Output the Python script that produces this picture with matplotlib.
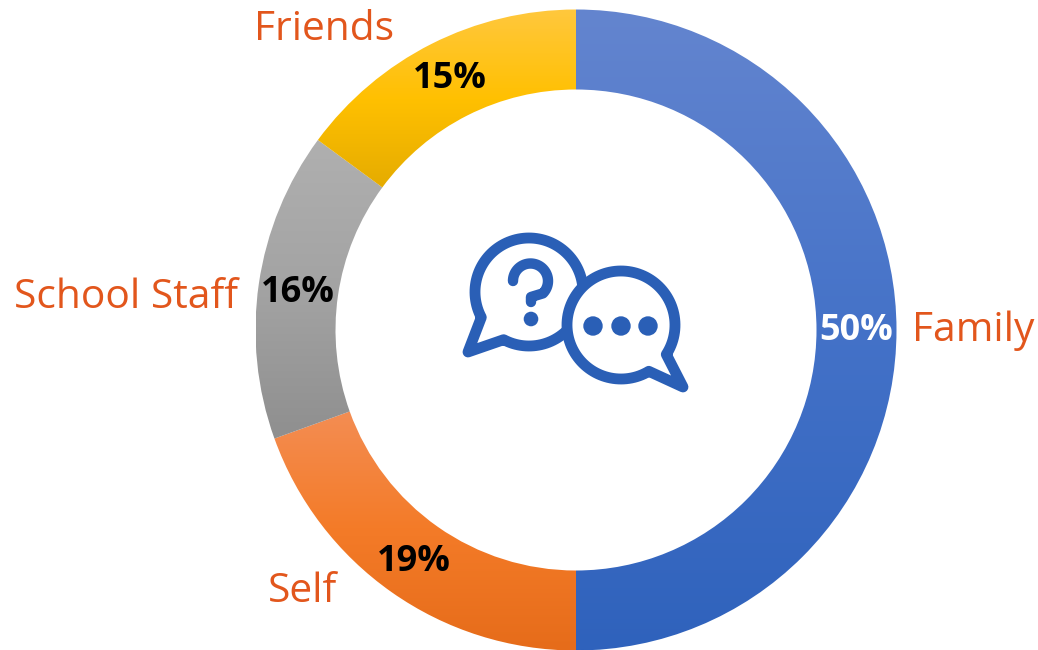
import numpy as np
import matplotlib
matplotlib.use('Agg')
import matplotlib.pyplot as plt
from matplotlib.patches import Wedge, Circle, Polygon
from matplotlib.colors import LinearSegmentedColormap

# Shares clockwise from 12 o'clock (read from the slice edges, labels are rounded)
labels = ['Family', 'Self', 'School Staff', 'Friends']
values = [50, 19.5, 15.6, 14.9]
pct_labels = ['50%', '19%', '16%', '15%']
top_colors = ['#6485cf', '#f38e55', '#b0b0b0', '#ffc840']
mid_colors = ['#4472c8', '#f47b28', '#a3a3a3', '#ffc000']
bot_colors = ['#2f62bc', '#e66c1a', '#8e8e8e', '#e3aa00']
pct_colors = ['white', 'black', 'black', 'black']

# Pixel coordinates, y flipped through the axes limits
W, H = 1038, 650
cx, cy = 576, 330
R_out, R_in = 320.5, 240.5

fig = plt.figure(figsize=(W / 100, H / 100), dpi=100)
ax = fig.add_axes([0, 0, 1, 1])
ax.set_xlim(0, W)
ax.set_ylim(H, 0)
ax.axis('off')

start = 0
bands = [(cy - R_out, cy + R_out), (405, cy + R_out), (135, 445), (5, 195)]
for val, c1, c2, c3, band in zip(values, top_colors, mid_colors, bot_colors, bands):
    end = start + val / sum(values) * 360
    # y axis is inverted, so the wedge angles run clockwise from +x
    w = Wedge((cx, cy), R_out, start - 90, end - 90, width=R_out - R_in, fc='none', ec='none')
    ax.add_patch(w)
    cmap = LinearSegmentedColormap.from_list('g', [c1, c2, c3])
    im = ax.imshow(np.linspace(0, 1, 256).reshape(-1, 1), cmap=cmap, aspect='auto',
                   extent=[cx - R_out, cx + R_out, band[1], band[0]], zorder=1)
    im.set_clip_path(w)
    start = end
ax.set_xlim(0, W)
ax.set_ylim(H, 0)

# label positions
label_xy = [(973, 331), (302, 592), (126, 298), (324, 30)]
pct_xy = [(856, 331), (414, 562), (298, 293), (450, 79)]
for name, xy in zip(labels, label_xy):
    ax.text(xy[0], xy[1], name, color='#e2561c', fontsize=29.3, family='Open Sans', ha='center', va='center')
for p, col, xy in zip(pct_labels, pct_colors, pct_xy):
    ax.text(xy[0], xy[1], p, color=col, fontsize=26, family='Open Sans', weight='bold', ha='center', va='center')

# centre icon: two speech bubbles with tails
blue = '#2a5fb6'
lw = 7.8

def bubble(x0, y0, r, a0, a1, tip, z):
    ang = np.radians(np.linspace(a0, a1, 120))
    pts = np.column_stack([x0 + r * np.cos(ang), y0 + r * np.sin(ang)])
    pts = np.vstack([pts, tip])
    ax.add_patch(Polygon(pts, closed=True, fc='white', ec=blue, lw=lw, joinstyle='round', zorder=z))

bubble(529, 292, 54, 152, 118 + 360, (468, 352), 2)
bubble(621, 325, 54, 59, 33 + 360, (683, 387), 3)

# question mark
ang = np.radians(np.linspace(180, 405, 60))
qx = np.r_[530.5 + 17.5 * np.cos(ang), 531, 531]
qy = np.r_[281 + 17.5 * np.sin(ang), 297, 302]
ax.plot(qx, qy, color=blue, lw=7.5, solid_capstyle='round', solid_joinstyle='round', zorder=4)
ax.add_patch(Circle((531, 319), 7.3, fc=blue, ec='none', zorder=4))
for dot_x in (593, 621, 648):
    ax.add_patch(Circle((dot_x, 326), 9.7, fc=blue, ec='none', zorder=5))

fig.savefig('out.png', dpi=100)
